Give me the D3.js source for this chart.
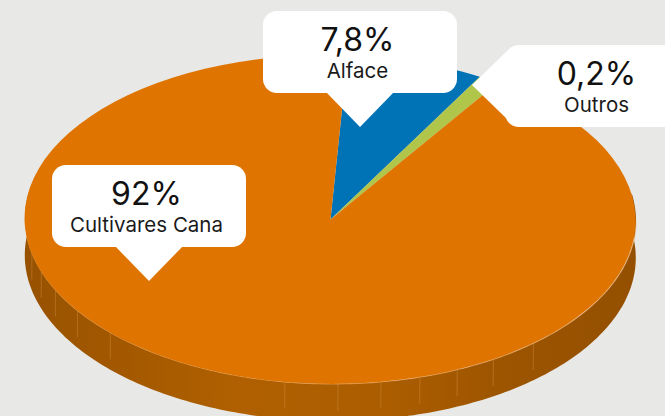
<!DOCTYPE html>
<html><head><meta charset="utf-8">
<script src="https://cdn.jsdelivr.net/npm/d3@7/dist/d3.min.js"></script>
<style>html,body{margin:0;padding:0;background:#e8e8e6;overflow:hidden}svg{display:block}</style>
</head><body><svg id="c" width="665" height="416"></svg>
<script>
// Labelled data
const categories = ["Alface", "Outros", "Cultivares Cana"];
const percentLabels = ["7,8%", "0,2%", "92%"];
// Angular sweep of each slice as drawn in the picture (degrees)
const drawnSweep = [26, 4, 330];
const sliceColors = ["#0073b7", "#afc64b", "#df7500"];
// Faint seams on the pie's front wall (degrees from the front point)
const seamAngles = [-77.6, -71, -64, -55.7, -45.9, -8.4, 1.6, 9.7, 17.2, 24.7, 32.4, 41.8];

const W = 665, H = 416;
const cx = 330.5, cy = 219.5, rx = 305.5, ry = 164.5, depth = 37, tilt = 0.35, startDeg = 3.05;
const rad = d => d * Math.PI / 180;
const svg = d3.select("#c");
const root = svg.append("g").attr("transform", `translate(${cx},${cy}) rotate(${tilt})`);

// wall gradient
const grad = svg.append("defs").append("linearGradient").attr("id", "wall")
  .attr("gradientUnits", "userSpaceOnUse").attr("x1", -rx).attr("x2", rx).attr("y1", 0).attr("y2", 0);
[[0, "#975200"], [0.2, "#a65a00"], [0.35, "#b06000"], [0.6, "#ab5d00"], [0.8, "#9c5400"], [1, "#945000"]]
  .forEach(([o, c]) => grad.append("stop").attr("offset", o).attr("stop-color", c));

const px = a => rx * Math.sin(rad(a)), py = a => ry * Math.cos(rad(a));
const wallAngles = d3.range(-100, 100.5, 1);
root.append("path").attr("fill", "url(#wall)")
  .attr("d", d3.area().x(px).y0(py).y1(a => py(a) + depth)(wallAngles));

root.selectAll("line.seam").data(seamAngles).join("line").attr("class", "seam")
  .attr("x1", px).attr("x2", px).attr("y1", py).attr("y2", a => py(a) + depth * 0.72)
  .attr("stroke", "#e8a860").attr("stroke-opacity", 0.3).attr("stroke-width", 1);

root.append("path").attr("fill", "none").attr("stroke", "#f2b070").attr("stroke-width", 1).attr("stroke-opacity", 0.6)
  .attr("d", d3.line().x(px).y(py)(d3.range(-90, 90.5, 1)));

// top face
const pie = d3.pie().sort(null).startAngle(rad(startDeg)).endAngle(rad(startDeg + 360));
const arc = d3.arc().innerRadius(0).outerRadius(1);
root.append("g").attr("transform", `scale(${rx},${ry})`)
  .selectAll("path").data(pie(drawnSweep)).join("path")
  .attr("d", arc).attr("fill", (d, i) => sliceColors[i]);

// callouts
const boxW = 194, boxH = 82, r = 14;
const callouts = [
  { i: 0, x: 263, y: 11, side: "down", tipX: 360, tipY: 127, base: 34, tx: 357.5 },
  { i: 1, x: 505, y: 45, side: "left", tipX: 472, tipY: 85, base: 34, tx: 596.5 },
  { i: 2, x: 52, y: 165, side: "down", tipX: 149, tipY: 281, base: 34, tx: 146.5 }
];
const font = "Inter, 'Open Sans', sans-serif";
callouts.forEach(c => {
  const g = svg.append("g");
  g.append("rect").attr("x", c.x).attr("y", c.y).attr("width", boxW).attr("height", boxH)
    .attr("rx", r).attr("fill", "#fff");
  const pts = c.side === "down"
    ? [[c.tipX - c.base, c.y + boxH - 1], [c.tipX + c.base, c.y + boxH - 1], [c.tipX, c.tipY]]
    : [[c.x + 3, c.tipY - c.base - 1], [c.x + 3, c.tipY + c.base + 1], [c.tipX, c.tipY]];
  g.append("path").attr("d", d3.line()(pts) + "Z").attr("fill", "#fff");
  g.append("text").attr("x", c.tx).attr("y", c.y + 39.5).attr("text-anchor", "middle")
    .attr("font-family", font).attr("font-size", 32).attr("fill", "#111").text(percentLabels[c.i]);
  g.append("text").attr("x", c.tx).attr("y", c.y + 66.5).attr("text-anchor", "middle")
    .attr("font-family", font).attr("font-size", 20.5).attr("fill", "#1a1a1a").text(categories[c.i]);
});
</script></body></html>
